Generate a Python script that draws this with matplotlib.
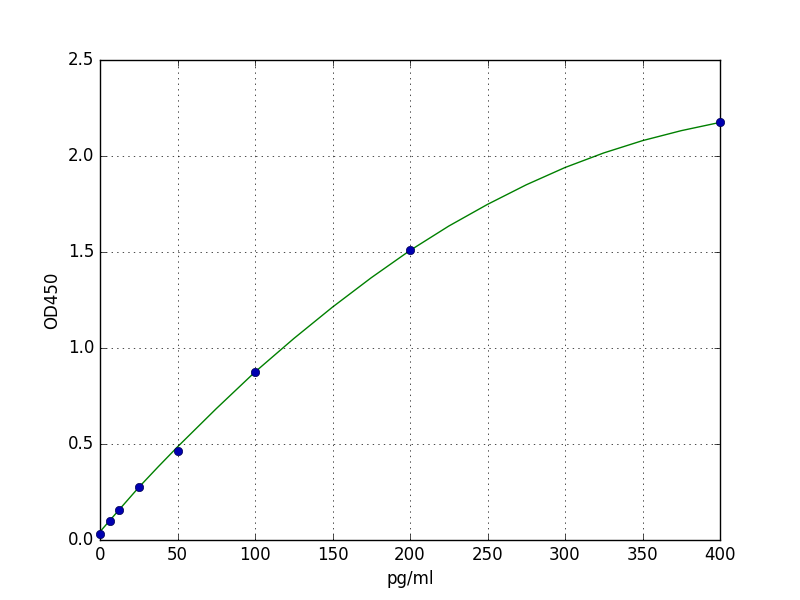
import matplotlib

matplotlib.use("Agg")

import matplotlib.pyplot as plt  # noqa: E402

plt.style.use("classic")

# standard points (concentration pg/ml, OD450)
conc = [0, 6.25, 12.5, 25, 50, 100, 200, 400]
od = [0.030, 0.100, 0.157, 0.277, 0.463, 0.873, 1.508, 2.175]

# fitted curve
curve_x = [0, 12.5, 25, 37.5, 50, 75, 100, 125, 150, 175, 200,
           225, 250, 275, 300, 325, 350, 375, 400]
curve_y = [0.043, 0.159, 0.274, 0.381, 0.485, 0.684, 0.875, 1.049, 1.213,
           1.366, 1.508, 1.635, 1.748, 1.850, 1.940, 2.016, 2.080, 2.132,
           2.175]

fig, ax = plt.subplots(figsize=(8, 6), dpi=100)
fig.patch.set_facecolor("white")
ax.plot(curve_x, curve_y, color="green", linewidth=1.0)
ax.plot(conc, od, "o", color="#0000b0", markeredgecolor="#000050",
        markersize=6, clip_on=False, zorder=3)
ax.set_xlim(0, 400)
ax.set_ylim(0, 2.5)
ax.set_xlabel("pg/ml")
ax.set_ylabel("OD450")
ax.grid(True)
fig.savefig("out.png", dpi=100, facecolor="white")
